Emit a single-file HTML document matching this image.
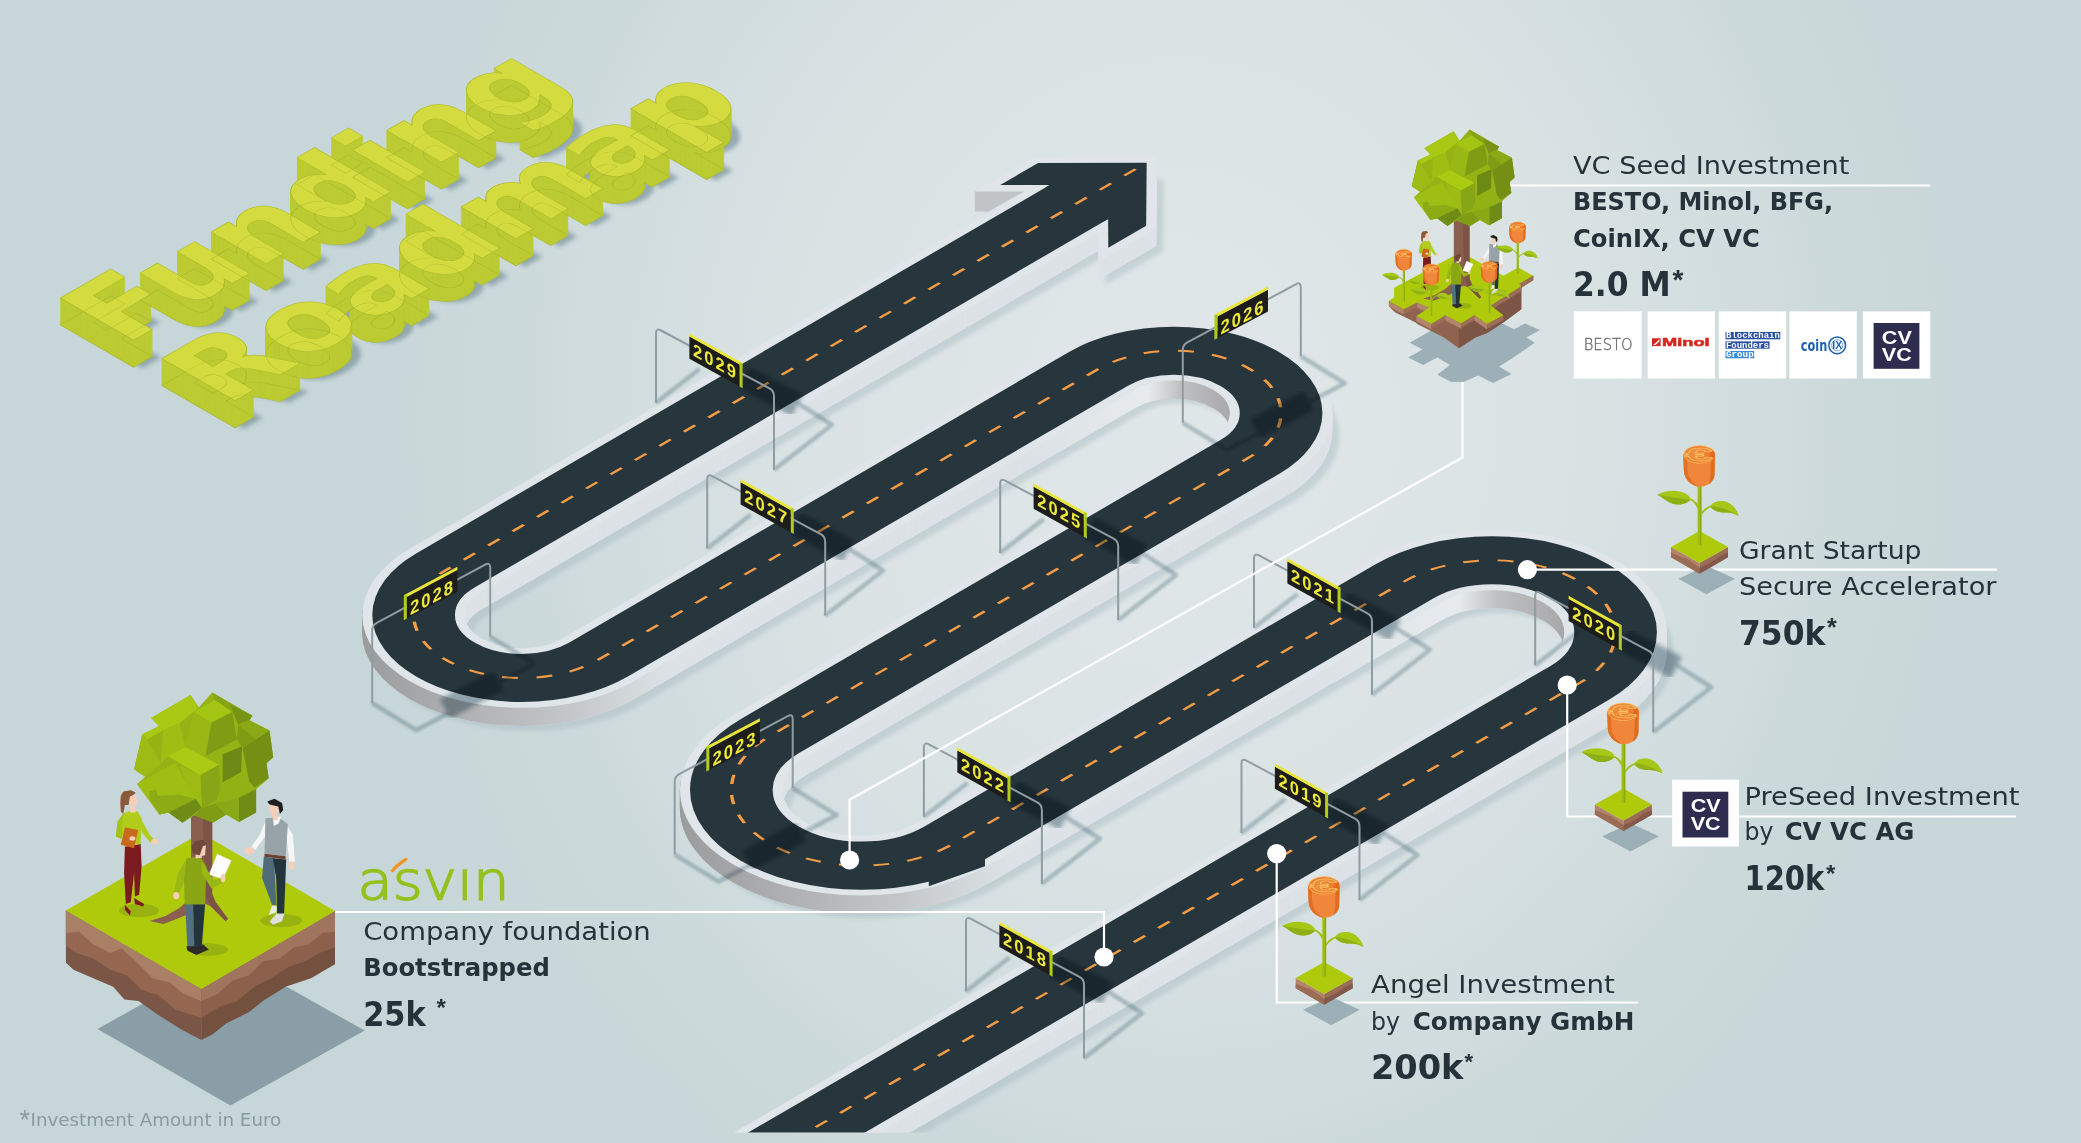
<!DOCTYPE html>
<html lang="en"><head><meta charset="utf-8"><title>Funding Roadmap</title>
<style>html,body{margin:0;padding:0;background:#c7d6d8;}body{width:2081px;height:1143px;overflow:hidden;font-family:"Liberation Sans",sans-serif;}svg{display:block}</style>
</head><body>
<svg width="2081" height="1143" viewBox="0 0 2081 1143">
<defs>
<radialGradient id="bg" gradientUnits="userSpaceOnUse" cx="1180" cy="420" r="850" gradientTransform="translate(1180 420) scale(1 1.15) translate(-1180 -420)">
<stop offset="0" stop-color="#e0e7e8"/><stop offset="0.45" stop-color="#dae3e4"/><stop offset="0.8" stop-color="#ccd9db"/><stop offset="1" stop-color="#c7d6d8"/></radialGradient>
<filter id="blur4" x="-30%" y="-30%" width="160%" height="160%"><feGaussianBlur stdDeviation="4"/></filter>
<filter id="blur2" x="-30%" y="-30%" width="160%" height="160%"><feGaussianBlur stdDeviation="2"/></filter>
<filter id="blur1" x="-30%" y="-30%" width="160%" height="160%"><feGaussianBlur stdDeviation="1.2"/></filter>
<path id="rd" d="M-900,1592.9 L234.0,1592.9 A101.20000000000005,101.20000000000005 0 0 0 234.0,1390.5 L-287.4,1390.5 A106.54999999999995,106.54999999999995 0 0 1 -287.4,1177.4 L268.2,1177.4 A87.60000000000002,87.60000000000002 0 0 0 268.2,1002.2 L-309.8,1002.2 A88.625,88.625 0 0 1 -309.8,824.95 L438.0,824.95"/>
<polygon id="ah" points="501.4,825.0 438.3,762.5 394.5,762.5 423.0,791.2 418.0,791.2 418.0,858.8 423.0,858.8 394.5,887.5 438.3,887.5"/>
<clipPath id="clipRoad"><rect x="0" y="0" width="2081" height="1132.4"/></clipPath>
<g id="curbshape" transform="matrix(0.8645,-0.5027,0.8645,0.5027,0,0)" fill="none"><use href="#rd" stroke-width="84.0"/><use href="#ah" fill="currentColor" stroke-width="16.4" stroke-linejoin="miter"/></g>
<linearGradient id="wg1" gradientUnits="userSpaceOnUse" x1="208.79" y1="208.79" x2="404.86" y2="404.86"><stop offset="0.0000" stop-color="#9a9b9d"/><stop offset="0.3215" stop-color="#b0b2b4"/><stop offset="0.6165" stop-color="#c4c7c9"/><stop offset="0.9115" stop-color="#dce2e5"/><stop offset="1.0000" stop-color="#dce2e5"/></linearGradient>
<linearGradient id="wg3" gradientUnits="userSpaceOnUse" x1="392.13" y1="392.13" x2="607.29" y2="607.29"><stop offset="0.0000" stop-color="#9a9b9d"/><stop offset="0.3280" stop-color="#b0b2b4"/><stop offset="0.5968" stop-color="#c4c7c9"/><stop offset="0.8925" stop-color="#dce2e5"/><stop offset="1.0000" stop-color="#dce2e5"/></linearGradient>
<linearGradient id="wg2" gradientUnits="userSpaceOnUse" x1="601.50" y1="601.50" x2="712.55" y2="712.55"><stop offset="0.0000" stop-color="#dce2e5"/><stop offset="0.5625" stop-color="#e8ebed"/><stop offset="0.7292" stop-color="#bfc0c2"/><stop offset="1.0000" stop-color="#a8a8aa"/></linearGradient>
<linearGradient id="wg4" gradientUnits="userSpaceOnUse" x1="769.23" y1="769.23" x2="905.15" y2="905.15"><stop offset="0.0000" stop-color="#dce2e5"/><stop offset="0.5447" stop-color="#e8ebed"/><stop offset="0.7106" stop-color="#bfc0c2"/><stop offset="1.0000" stop-color="#a8a8aa"/></linearGradient>
<clipPath id="cw1"><rect x="340" y="560" width="360" height="220"/></clipPath>
<clipPath id="cw3"><rect x="655" y="740" width="395" height="220"/></clipPath>
<clipPath id="cw2"><rect x="1110" y="365" width="126" height="70"/></clipPath>
<clipPath id="cw4"><rect x="1405" y="575" width="165" height="90"/></clipPath>
<path id="swg1" d="M-49.80000000000001,1043.0 L-309.8,1043.0 A129.425,129.425 0 0 1 -309.8,784.1500000000001 L-269.8,784.1500000000001"/>
<path id="swg3" d="M-27.399999999999977,1431.3 L-287.4,1431.3 A147.34999999999997,147.34999999999997 0 0 1 -287.4,1136.6000000000001 L-247.39999999999998,1136.6000000000001"/>
<path id="swg2" d="M148.2,1043.0000000000002 L268.2,1043.0000000000002 A46.800000000000026,46.800000000000026 0 0 1 268.2,1136.6000000000001"/>
<path id="swg4" d="M114.0,1431.3 L234.0,1431.3 A60.40000000000005,60.40000000000005 0 0 1 234.0,1552.1000000000001"/>
<g id="flower"><polygon points="-21.2,31.8 7.0,18.8 35.5,31.8 7.0,47.2" fill="#9bafb7" /><polygon points="-28.5,0.0 0.0,16.0 0.0,26.7 -28.5,10.3" fill="#b2846a" /><polygon points="0.0,16.0 28.5,0.0 28.5,10.3 0.0,26.7" fill="#9a6b55" /><polygon points="-28.5,5.5 -20.0,9.0 -12.0,12.0 0.0,20.5 0.0,26.7 -28.5,10.3" fill="#9a6c56" /><polygon points="0.0,20.5 10.0,16.5 20.0,9.5 28.5,5.5 28.5,10.3 0.0,26.7" fill="#83584a" /><polygon points="-28.5,0.0 0.0,-16.0 28.5,0.0 0.0,16.0" fill="#afca0b" /><rect x="-1.9" y="-61" width="3.8" height="59.5" fill="#9ebf12"/><rect x="0.4" y="-61" width="1.5" height="59.5" fill="#8cab12"/><path d="M-1.9,-38.5 C-4,-43 -6,-45.5 -9.5,-47 L-8.5,-48.5 C-5,-47 -2.5,-44 -0.5,-41 Z" fill="#9ebf12"/><path d="M-42.1,-52.3 C-34,-57 -22,-57.5 -14,-53.5 C-10.5,-51.5 -8.8,-49.5 -8.8,-47.5 C-12,-43.5 -20,-41.5 -26,-43 C-32,-45 -37,-49.5 -42.1,-52.3 Z" fill="#a6c715"/><path d="M-42.1,-52.3 C-32,-50.5 -20,-48.5 -8.8,-47.5 C-12,-43.5 -20,-41.5 -26,-43 C-32,-45 -37,-49.5 -42.1,-52.3 Z" fill="#8fb015"/><path d="M1.9,-34.5 C4,-38 7,-40 11.5,-41.5 L12,-40 C8,-38.5 4.5,-36 1.9,-31.5 Z" fill="#9ebf12"/><path d="M10.8,-41 C13,-45 20,-47 26,-45.5 C33,-43.5 38,-37 39.3,-30.7 C35,-33.5 31,-34.5 25,-34.5 C18,-34.5 12.5,-37 10.8,-41 Z" fill="#a6c715"/><path d="M10.8,-41 C20,-40.5 31,-37 39.3,-30.7 C35,-33.5 31,-34.5 25,-34.5 C18,-34.5 12.5,-37 10.8,-41 Z" fill="#8fb015"/><path d="M-16.3,-93 L-15.6,-76 C-15,-68 -9,-61.5 -1,-60.3 C6,-59.5 13,-64 15,-72 L15.4,-94 Z" fill="#ef863a"/><path d="M-16.3,-93 L-15.6,-76 C-15,-68 -9,-61.5 -1,-60.3 C-7,-64 -11.5,-69 -12,-77 L-12.6,-91 Z" fill="#e26f22"/><path d="M9,-62.5 C13,-65 15,-69 15,-72 L15.4,-94 L11.5,-90 L11,-74 C11,-69 10.5,-65 9,-62.5 Z" fill="#e06c20"/><ellipse cx="0" cy="-92.6" rx="15.6" ry="8.8" fill="#ee7f31" stroke="#fcc660" stroke-width="0.7"/><path d="M8.5,-97.5 L14.6,-95.6 L15.4,-92 L15.2,-88.5 L9,-90.2 C11,-92 11,-95.5 8.5,-97.5 Z" fill="#e4691a"/><text transform="translate(-0.5,-92.4) scale(1.5,0.55)" x="0" y="11.6" text-anchor="middle" font-family="Liberation Sans, sans-serif" font-weight="700" font-size="33" fill="#f08a3c" stroke="#fdd272" stroke-width="0.8">€</text></g>
<g id="flower2"><rect x="-1.9" y="-61" width="3.8" height="59.5" fill="#9ebf12"/><rect x="0.4" y="-61" width="1.5" height="59.5" fill="#8cab12"/><path d="M-1.9,-38.5 C-4,-43 -6,-45.5 -9.5,-47 L-8.5,-48.5 C-5,-47 -2.5,-44 -0.5,-41 Z" fill="#9ebf12"/><path d="M-42.1,-52.3 C-34,-57 -22,-57.5 -14,-53.5 C-10.5,-51.5 -8.8,-49.5 -8.8,-47.5 C-12,-43.5 -20,-41.5 -26,-43 C-32,-45 -37,-49.5 -42.1,-52.3 Z" fill="#a6c715"/><path d="M-42.1,-52.3 C-32,-50.5 -20,-48.5 -8.8,-47.5 C-12,-43.5 -20,-41.5 -26,-43 C-32,-45 -37,-49.5 -42.1,-52.3 Z" fill="#8fb015"/><path d="M1.9,-34.5 C4,-38 7,-40 11.5,-41.5 L12,-40 C8,-38.5 4.5,-36 1.9,-31.5 Z" fill="#9ebf12"/><path d="M10.8,-41 C13,-45 20,-47 26,-45.5 C33,-43.5 38,-37 39.3,-30.7 C35,-33.5 31,-34.5 25,-34.5 C18,-34.5 12.5,-37 10.8,-41 Z" fill="#a6c715"/><path d="M10.8,-41 C20,-40.5 31,-37 39.3,-30.7 C35,-33.5 31,-34.5 25,-34.5 C18,-34.5 12.5,-37 10.8,-41 Z" fill="#8fb015"/><path d="M-16.3,-93 L-15.6,-76 C-15,-68 -9,-61.5 -1,-60.3 C6,-59.5 13,-64 15,-72 L15.4,-94 Z" fill="#ef863a"/><path d="M-16.3,-93 L-15.6,-76 C-15,-68 -9,-61.5 -1,-60.3 C-7,-64 -11.5,-69 -12,-77 L-12.6,-91 Z" fill="#e26f22"/><path d="M9,-62.5 C13,-65 15,-69 15,-72 L15.4,-94 L11.5,-90 L11,-74 C11,-69 10.5,-65 9,-62.5 Z" fill="#e06c20"/><ellipse cx="0" cy="-92.6" rx="15.6" ry="8.8" fill="#ee7f31" stroke="#fcc660" stroke-width="0.7"/><path d="M8.5,-97.5 L14.6,-95.6 L15.4,-92 L15.2,-88.5 L9,-90.2 C11,-92 11,-95.5 8.5,-97.5 Z" fill="#e4691a"/><text transform="translate(-0.5,-92.4) scale(1.5,0.55)" x="0" y="11.6" text-anchor="middle" font-family="Liberation Sans, sans-serif" font-weight="700" font-size="33" fill="#f08a3c" stroke="#fdd272" stroke-width="0.8">€</text></g>
<g id="tree"><polygon points="-10.5,-90.0 10.7,-90.0 10.7,-4.0 14.0,4.0 26.5,21.0 24.0,23.0 9.0,8.0 4.0,6.0 -2.0,7.0 -8.0,14.0 -20.0,19.0 -38.0,26.0 -52.0,23.0 -36.0,18.0 -22.0,10.0 -13.0,2.0 -10.5,-6.0" fill="#8a5f4f" /><polygon points="1.0,-90.0 10.7,-90.0 10.7,-4.0 14.0,4.0 26.5,21.0 24.0,23.0 9.0,8.0 4.0,-2.0" fill="#7c5446" /><polygon points="10.7,-205.4 50.9,-182.3 47.9,-177.8 68.0,-167.4 71.7,-140.7 65.0,-134.7 67.2,-119.8 54.6,-108.7 54.6,-85.6 37.5,-76.0 24.8,-83.4 11.5,-75.2 -7.1,-82.7 -19.0,-75.2 -33.2,-85.6 -42.1,-83.4 -64.4,-113.9 -56.2,-121.3 -67.4,-128.8 -59.2,-163.7 -42.1,-171.9 -50.3,-180.1 -10.9,-203.1 -2.7,-190.5" fill="#95b315" /><polygon points="-50.3,-180.1 -10.9,-203.1 -3.4,-189.7 -22.0,-174.9 -38.4,-167.4" fill="#a8c813" /><polygon points="-59.2,-163.7 -42.1,-171.9 -38.4,-167.4 -54.7,-158.5" fill="#a8c813" /><polygon points="-59.2,-163.7 -54.7,-158.5 -40.6,-134.7 -56.2,-121.3 -67.4,-128.8" fill="#9dbb14" /><polygon points="-38.4,-167.4 -22.0,-174.9 -16.1,-151.1 -33.9,-142.1 -40.6,-134.7" fill="#9fbe14" /><polygon points="-7.9,-186.0 13.7,-197.9 30.8,-186.0 10.0,-175.6" fill="#a5c514" /><polygon points="-7.9,-186.0 10.0,-175.6 4.0,-142.1 -16.1,-151.1" fill="#9ab815" /><polygon points="10.0,-175.6 30.8,-186.0 35.3,-158.5 4.0,-142.1" fill="#7f9c14" /><polygon points="10.7,-205.4 50.9,-182.3 36.7,-173.4 30.8,-186.0 13.7,-197.9" fill="#86a416" /><polygon points="28.6,-193.5 50.9,-182.3 47.9,-177.8 36.7,-173.4" fill="#789414" /><polygon points="36.7,-173.4 47.9,-177.8 68.0,-167.4 54.6,-158.5" fill="#8aa916" /><polygon points="35.3,-158.5 36.7,-173.4 54.6,-158.5 58.3,-134.7 40.5,-151.1" fill="#7f9c14" /><polygon points="54.6,-158.5 68.0,-167.4 71.7,-140.7 65.0,-134.7 67.2,-119.8 49.4,-107.9 41.2,-149.6" fill="#758f15" /><polygon points="21.1,-143.6 40.5,-151.8 39.7,-125.8 21.1,-115.4" fill="#6c8815" /><polygon points="-33.9,-142.1 -16.1,-151.1 17.4,-133.2 -1.2,-122.8" fill="#aaca13" /><polygon points="-1.2,-122.8 17.4,-133.2 19.6,-100.5 0.3,-90.1" fill="#87a516" /><polygon points="-22.0,-132.5 -1.2,-122.8 0.3,-90.1 -8.6,-99.0" fill="#9dbb14" /><polygon points="-64.4,-113.9 -44.3,-125.8 -26.5,-134.7 -5.6,-99.0 -33.2,-85.6 -42.1,-83.4" fill="#9fbe14" /><polygon points="-52.5,-106.5 -45.8,-108.7 -43.6,-102.0 -22.0,-103.5 -5.6,-99.0 -33.2,-85.6 -42.1,-83.4 -51.8,-99.0" fill="#8dab15" /><polygon points="-33.2,-85.6 -5.6,-99.0 0.3,-90.1 -19.0,-75.2" fill="#6f8c17" /><polygon points="-7.1,-82.7 0.3,-90.1 13.7,-94.6 24.8,-83.4 11.5,-75.2" fill="#7f9c14" /><polygon points="13.7,-94.6 21.1,-115.4 39.7,-125.8 54.6,-108.7 37.5,-100.5" fill="#92b115" /><polygon points="37.5,-100.5 54.6,-108.7 54.6,-85.6 37.5,-76.0" fill="#6f8c17" /><polygon points="13.7,-94.6 37.5,-100.5 37.5,-76.0 24.8,-83.4" fill="#8aa916" /></g>
<g id="people"><ellipse cx="139.1" cy="910.5" rx="20.0" ry="6.7" fill="#98b30f" /><polygon points="124.9,904.7 130.8,911.4 129.9,915.5 124.9,909.7" fill="#7b1a1f" /><polygon points="134.1,898.1 144.1,903.9 143.2,906.4 134.9,903.9" fill="#7b1a1f" /><polygon points="124.9,846.5 140.7,844.0 141.6,866.5 139.1,894.7 134.9,896.4 134.1,873.1 130.8,902.2 125.8,903.9 124.1,873.1" fill="#7b1a1f" /><polygon points="123.3,813.3 117.5,821.6 115.8,836.5 121.6,839.0 124.9,826.6" fill="#a4c116" /><polygon points="123.3,813.3 130.8,810.8 137.4,811.3 141.6,818.2 140.7,844.0 124.9,846.5 121.6,829.9" fill="#b2cc1c" /><polygon points="139.1,815.7 149.9,834.9 154.0,839.5 150.7,842.9 142.4,833.2 139.1,824.9" fill="#b2cc1c" /><ellipse cx="154.9" cy="841.5" rx="3.7" ry="2.7" fill="#f6cfbb" /><polygon points="124.9,827.4 138.2,829.9 134.1,848.2 120.8,844.8" fill="#c8691c" /><ellipse cx="132.4" cy="838.5" rx="3.0" ry="2.2" fill="#f6cfbb" /><polygon points="130.4,804.9 135.3,804.9 135.7,812.4 129.9,812.4" fill="#f6cfbb" /><ellipse cx="132.8" cy="800.3" rx="4.3" ry="6.3" fill="#f6cfbb" /><polygon points="120.8,795.8 123.3,791.6 130.8,790.3 135.7,792.5 133.3,795.0 129.9,796.6 128.6,804.9 124.9,804.9 123.3,814.1 120.8,811.6 120.3,803.3" fill="#8a5a3c" /><ellipse cx="281.2" cy="920.5" rx="20.8" ry="6.7" fill="#98b30f" /><polygon points="272.1,905.5 277.1,906.4 276.3,912.2 268.8,915.0" fill="#e9e9e9" /><polygon points="277.1,913.0 284.6,913.0 282.1,921.3 272.9,924.7 269.6,921.3" fill="#dedede" /><polygon points="263.8,856.5 274.1,858.2 276.3,905.0 272.1,905.0 262.1,878.1" fill="#4f6b78" /><polygon points="272.9,858.2 286.2,859.5 284.1,913.4 277.1,913.4 276.3,879.8" fill="#23343c" /><polygon points="265.4,821.6 266.3,834.9 255.5,849.8 251.3,847.0 259.6,834.9" fill="#f4f6f7" /><polygon points="286.2,824.1 292.9,834.9 294.9,861.5 289.6,862.5 287.1,843.2" fill="#f4f6f7" /><polygon points="265.4,818.2 278.7,817.4 287.9,824.1 285.7,856.2 264.6,853.5" fill="#98a3a7" /><polygon points="272.9,817.4 281.2,816.6 278.7,823.6 273.8,826.1" fill="#f4f6f7" /><polygon points="264.6,853.7 285.7,856.2 285.6,859.5 264.4,856.7" fill="#6b4030" /><ellipse cx="249.3" cy="850.7" rx="5.0" ry="3.7" fill="#f6cfbb" /><ellipse cx="291.7" cy="865.6" rx="3.0" ry="4.3" fill="#f6cfbb" /><polygon points="272.1,813.3 277.1,813.3 277.6,819.9 272.9,819.9" fill="#f6cfbb" /><ellipse cx="273.8" cy="808.6" rx="4.7" ry="6.7" fill="#f6cfbb" /><polygon points="267.1,801.6 274.6,798.8 282.1,802.9 283.2,809.9 279.9,814.1 278.3,806.6 269.6,804.4" fill="#1f1f1f" /></g>
<g id="cman"><ellipse cx="208.1" cy="949.6" rx="20.0" ry="6.3" fill="#98b30f" /><polygon points="186.5,946.3 203.1,944.6 208.9,949.6 196.4,954.9 187.3,950.4" fill="#2e2a28" /><polygon points="185.1,903.9 193.4,903.9 194.3,946.3 187.3,946.3" fill="#53707e" /><polygon points="193.1,903.9 205.1,903.9 201.8,946.3 194.3,947.9" fill="#23343c" /><polygon points="217.2,854.0 231.4,860.6 223.0,878.9 208.9,874.8" fill="#fdfdfd" stroke="#d9dcdc" stroke-width="0.3"/><polygon points="186.5,858.2 178.2,873.1 174.0,892.2 178.5,894.7 185.1,879.8" fill="#9ab815" /><polygon points="186.5,858.2 199.8,856.5 206.4,866.5 205.1,904.4 184.8,904.4 184.0,879.8" fill="#8aa614" /><polygon points="201.4,859.8 213.1,879.8 222.2,877.8 223.9,882.3 211.4,888.4 201.8,873.1" fill="#9ab815" /><ellipse cx="176.2" cy="895.6" rx="3.0" ry="3.7" fill="#f6cfbb" /><ellipse cx="223.0" cy="878.1" rx="2.3" ry="4.3" fill="#f6cfbb" /><polygon points="199.4,846.5 205.8,845.2 205.1,855.2 199.8,856.2" fill="#f6cfbb" /><polygon points="195.6,853.2 201.8,853.2 201.8,857.8 195.6,858.5" fill="#f6cfbb" /><polygon points="191.5,846.5 194.8,841.5 203.1,839.5 206.8,844.0 202.8,846.5 199.8,855.2 193.1,854.0" fill="#6f4a3a" /></g>
<g id="island"><polygon points="65.9,910.5 201.3,989.0 201.3,1039.9 180.9,1029.2 158.3,1015.1 138.5,1000.9 124.4,999.5 113.1,986.8 93.3,978.3 73.5,969.8 65.9,962.8" fill="#7b5546" /><polygon points="201.3,989.0 335.0,911.0 335.0,964.2 311.0,978.3 285.5,986.8 262.9,1000.9 248.8,1012.2 226.1,1023.5 212.0,1034.8 201.3,1039.9" fill="#74503f" /><polygon points="65.9,910.5 201.3,989.0 201.3,1017.9 175.3,1009.4 158.3,995.3 141.3,989.6 127.2,975.5 110.2,969.8 93.3,958.5 76.3,952.9 65.9,945.8" fill="#956750" /><polygon points="201.3,989.0 335.0,911.0 335.0,947.2 319.4,952.9 305.3,961.3 288.3,967.0 271.4,978.3 254.4,986.8 237.5,1000.9 220.5,1006.6 201.3,1017.9" fill="#8d604b" /><polygon points="65.9,910.5 201.3,989.0 201.3,1000.9 183.7,993.9 169.6,982.5 152.7,978.3 135.7,961.3 121.6,948.6 110.2,952.9 93.3,944.4 79.2,931.7 65.9,933.1" fill="#a97f66" /><polygon points="201.3,989.0 335.0,911.0 335.0,931.7 322.3,933.1 308.1,944.4 294.0,947.2 279.9,958.5 262.9,961.3 248.8,975.5 231.8,981.1 217.7,993.9 201.3,1000.9" fill="#a0755d" /><polygon points="65.9,910.5 201.0,833.0 335.0,911.0 201.3,989.0" fill="#afca0b" /></g>
<text id="tF" transform="matrix(0.8660254,-0.5,0.8660254,0.5,131.9,341.1)" x="-8.6" y="0" font-family="DejaVu Sans, sans-serif" font-weight="700" font-size="116" stroke-linejoin="round" textLength="520" lengthAdjust="spacingAndGlyphs">Funding</text>
<text id="tR" transform="matrix(0.8660254,-0.5,0.8660254,0.5,233.5,401.7)" x="-8.6" y="0" font-family="DejaVu Sans, sans-serif" font-weight="700" font-size="116" stroke-linejoin="round" textLength="603" lengthAdjust="spacingAndGlyphs">Roadmap</text>
</defs>
<rect width="2081" height="1143" fill="url(#bg)"/>
<g clip-path="url(#clipRoad)">
<g transform="translate(7,23)" opacity="0.38" filter="url(#blur2)" stroke="#9fb3ba" color="#9fb3ba"><use href="#curbshape"/></g>
<g stroke="#dce2e5" color="#dce2e5">
<use href="#curbshape" y="18"/>
<use href="#curbshape" y="17"/>
<use href="#curbshape" y="16"/>
<use href="#curbshape" y="15"/>
<use href="#curbshape" y="14"/>
<use href="#curbshape" y="13"/>
<use href="#curbshape" y="12"/>
<use href="#curbshape" y="11"/>
<use href="#curbshape" y="10"/>
<use href="#curbshape" y="9"/>
<use href="#curbshape" y="8"/>
<use href="#curbshape" y="7"/>
<use href="#curbshape" y="6"/>
<use href="#curbshape" y="5"/>
<use href="#curbshape" y="4"/>
<use href="#curbshape" y="3"/>
<use href="#curbshape" y="2"/>
<use href="#curbshape" y="1"/>
</g>
<g transform="translate(0,18)"><g transform="matrix(0.8645,-0.5027,0.8645,0.5027,0,0)" fill="none" stroke="url(#wg1)" stroke-width="2.6"><use href="#swg1"/></g></g>
<g transform="translate(0,17)"><g transform="matrix(0.8645,-0.5027,0.8645,0.5027,0,0)" fill="none" stroke="url(#wg1)" stroke-width="2.6"><use href="#swg1"/></g></g>
<g transform="translate(0,16)"><g transform="matrix(0.8645,-0.5027,0.8645,0.5027,0,0)" fill="none" stroke="url(#wg1)" stroke-width="2.6"><use href="#swg1"/></g></g>
<g transform="translate(0,15)"><g transform="matrix(0.8645,-0.5027,0.8645,0.5027,0,0)" fill="none" stroke="url(#wg1)" stroke-width="2.6"><use href="#swg1"/></g></g>
<g transform="translate(0,14)"><g transform="matrix(0.8645,-0.5027,0.8645,0.5027,0,0)" fill="none" stroke="url(#wg1)" stroke-width="2.6"><use href="#swg1"/></g></g>
<g transform="translate(0,13)"><g transform="matrix(0.8645,-0.5027,0.8645,0.5027,0,0)" fill="none" stroke="url(#wg1)" stroke-width="2.6"><use href="#swg1"/></g></g>
<g transform="translate(0,12)"><g transform="matrix(0.8645,-0.5027,0.8645,0.5027,0,0)" fill="none" stroke="url(#wg1)" stroke-width="2.6"><use href="#swg1"/></g></g>
<g transform="translate(0,11)"><g transform="matrix(0.8645,-0.5027,0.8645,0.5027,0,0)" fill="none" stroke="url(#wg1)" stroke-width="2.6"><use href="#swg1"/></g></g>
<g transform="translate(0,10)"><g transform="matrix(0.8645,-0.5027,0.8645,0.5027,0,0)" fill="none" stroke="url(#wg1)" stroke-width="2.6"><use href="#swg1"/></g></g>
<g transform="translate(0,9)"><g transform="matrix(0.8645,-0.5027,0.8645,0.5027,0,0)" fill="none" stroke="url(#wg1)" stroke-width="2.6"><use href="#swg1"/></g></g>
<g transform="translate(0,8)"><g transform="matrix(0.8645,-0.5027,0.8645,0.5027,0,0)" fill="none" stroke="url(#wg1)" stroke-width="2.6"><use href="#swg1"/></g></g>
<g transform="translate(0,7)"><g transform="matrix(0.8645,-0.5027,0.8645,0.5027,0,0)" fill="none" stroke="url(#wg1)" stroke-width="2.6"><use href="#swg1"/></g></g>
<g transform="translate(0,6)"><g transform="matrix(0.8645,-0.5027,0.8645,0.5027,0,0)" fill="none" stroke="url(#wg1)" stroke-width="2.6"><use href="#swg1"/></g></g>
<g transform="translate(0,5)"><g transform="matrix(0.8645,-0.5027,0.8645,0.5027,0,0)" fill="none" stroke="url(#wg1)" stroke-width="2.6"><use href="#swg1"/></g></g>
<g transform="translate(0,4)"><g transform="matrix(0.8645,-0.5027,0.8645,0.5027,0,0)" fill="none" stroke="url(#wg1)" stroke-width="2.6"><use href="#swg1"/></g></g>
<g transform="translate(0,3)"><g transform="matrix(0.8645,-0.5027,0.8645,0.5027,0,0)" fill="none" stroke="url(#wg1)" stroke-width="2.6"><use href="#swg1"/></g></g>
<g transform="translate(0,2)"><g transform="matrix(0.8645,-0.5027,0.8645,0.5027,0,0)" fill="none" stroke="url(#wg1)" stroke-width="2.6"><use href="#swg1"/></g></g>
<g transform="translate(0,1)"><g transform="matrix(0.8645,-0.5027,0.8645,0.5027,0,0)" fill="none" stroke="url(#wg1)" stroke-width="2.6"><use href="#swg1"/></g></g>
<g transform="translate(0,18)"><g transform="matrix(0.8645,-0.5027,0.8645,0.5027,0,0)" fill="none" stroke="url(#wg3)" stroke-width="2.6"><use href="#swg3"/></g></g>
<g transform="translate(0,17)"><g transform="matrix(0.8645,-0.5027,0.8645,0.5027,0,0)" fill="none" stroke="url(#wg3)" stroke-width="2.6"><use href="#swg3"/></g></g>
<g transform="translate(0,16)"><g transform="matrix(0.8645,-0.5027,0.8645,0.5027,0,0)" fill="none" stroke="url(#wg3)" stroke-width="2.6"><use href="#swg3"/></g></g>
<g transform="translate(0,15)"><g transform="matrix(0.8645,-0.5027,0.8645,0.5027,0,0)" fill="none" stroke="url(#wg3)" stroke-width="2.6"><use href="#swg3"/></g></g>
<g transform="translate(0,14)"><g transform="matrix(0.8645,-0.5027,0.8645,0.5027,0,0)" fill="none" stroke="url(#wg3)" stroke-width="2.6"><use href="#swg3"/></g></g>
<g transform="translate(0,13)"><g transform="matrix(0.8645,-0.5027,0.8645,0.5027,0,0)" fill="none" stroke="url(#wg3)" stroke-width="2.6"><use href="#swg3"/></g></g>
<g transform="translate(0,12)"><g transform="matrix(0.8645,-0.5027,0.8645,0.5027,0,0)" fill="none" stroke="url(#wg3)" stroke-width="2.6"><use href="#swg3"/></g></g>
<g transform="translate(0,11)"><g transform="matrix(0.8645,-0.5027,0.8645,0.5027,0,0)" fill="none" stroke="url(#wg3)" stroke-width="2.6"><use href="#swg3"/></g></g>
<g transform="translate(0,10)"><g transform="matrix(0.8645,-0.5027,0.8645,0.5027,0,0)" fill="none" stroke="url(#wg3)" stroke-width="2.6"><use href="#swg3"/></g></g>
<g transform="translate(0,9)"><g transform="matrix(0.8645,-0.5027,0.8645,0.5027,0,0)" fill="none" stroke="url(#wg3)" stroke-width="2.6"><use href="#swg3"/></g></g>
<g transform="translate(0,8)"><g transform="matrix(0.8645,-0.5027,0.8645,0.5027,0,0)" fill="none" stroke="url(#wg3)" stroke-width="2.6"><use href="#swg3"/></g></g>
<g transform="translate(0,7)"><g transform="matrix(0.8645,-0.5027,0.8645,0.5027,0,0)" fill="none" stroke="url(#wg3)" stroke-width="2.6"><use href="#swg3"/></g></g>
<g transform="translate(0,6)"><g transform="matrix(0.8645,-0.5027,0.8645,0.5027,0,0)" fill="none" stroke="url(#wg3)" stroke-width="2.6"><use href="#swg3"/></g></g>
<g transform="translate(0,5)"><g transform="matrix(0.8645,-0.5027,0.8645,0.5027,0,0)" fill="none" stroke="url(#wg3)" stroke-width="2.6"><use href="#swg3"/></g></g>
<g transform="translate(0,4)"><g transform="matrix(0.8645,-0.5027,0.8645,0.5027,0,0)" fill="none" stroke="url(#wg3)" stroke-width="2.6"><use href="#swg3"/></g></g>
<g transform="translate(0,3)"><g transform="matrix(0.8645,-0.5027,0.8645,0.5027,0,0)" fill="none" stroke="url(#wg3)" stroke-width="2.6"><use href="#swg3"/></g></g>
<g transform="translate(0,2)"><g transform="matrix(0.8645,-0.5027,0.8645,0.5027,0,0)" fill="none" stroke="url(#wg3)" stroke-width="2.6"><use href="#swg3"/></g></g>
<g transform="translate(0,1)"><g transform="matrix(0.8645,-0.5027,0.8645,0.5027,0,0)" fill="none" stroke="url(#wg3)" stroke-width="2.6"><use href="#swg3"/></g></g>
<g transform="translate(0,18)"><g transform="matrix(0.8645,-0.5027,0.8645,0.5027,0,0)" fill="none" stroke="url(#wg2)" stroke-width="2.6"><use href="#swg2"/></g></g>
<g transform="translate(0,17)"><g transform="matrix(0.8645,-0.5027,0.8645,0.5027,0,0)" fill="none" stroke="url(#wg2)" stroke-width="2.6"><use href="#swg2"/></g></g>
<g transform="translate(0,16)"><g transform="matrix(0.8645,-0.5027,0.8645,0.5027,0,0)" fill="none" stroke="url(#wg2)" stroke-width="2.6"><use href="#swg2"/></g></g>
<g transform="translate(0,15)"><g transform="matrix(0.8645,-0.5027,0.8645,0.5027,0,0)" fill="none" stroke="url(#wg2)" stroke-width="2.6"><use href="#swg2"/></g></g>
<g transform="translate(0,14)"><g transform="matrix(0.8645,-0.5027,0.8645,0.5027,0,0)" fill="none" stroke="url(#wg2)" stroke-width="2.6"><use href="#swg2"/></g></g>
<g transform="translate(0,13)"><g transform="matrix(0.8645,-0.5027,0.8645,0.5027,0,0)" fill="none" stroke="url(#wg2)" stroke-width="2.6"><use href="#swg2"/></g></g>
<g transform="translate(0,12)"><g transform="matrix(0.8645,-0.5027,0.8645,0.5027,0,0)" fill="none" stroke="url(#wg2)" stroke-width="2.6"><use href="#swg2"/></g></g>
<g transform="translate(0,11)"><g transform="matrix(0.8645,-0.5027,0.8645,0.5027,0,0)" fill="none" stroke="url(#wg2)" stroke-width="2.6"><use href="#swg2"/></g></g>
<g transform="translate(0,10)"><g transform="matrix(0.8645,-0.5027,0.8645,0.5027,0,0)" fill="none" stroke="url(#wg2)" stroke-width="2.6"><use href="#swg2"/></g></g>
<g transform="translate(0,9)"><g transform="matrix(0.8645,-0.5027,0.8645,0.5027,0,0)" fill="none" stroke="url(#wg2)" stroke-width="2.6"><use href="#swg2"/></g></g>
<g transform="translate(0,8)"><g transform="matrix(0.8645,-0.5027,0.8645,0.5027,0,0)" fill="none" stroke="url(#wg2)" stroke-width="2.6"><use href="#swg2"/></g></g>
<g transform="translate(0,7)"><g transform="matrix(0.8645,-0.5027,0.8645,0.5027,0,0)" fill="none" stroke="url(#wg2)" stroke-width="2.6"><use href="#swg2"/></g></g>
<g transform="translate(0,6)"><g transform="matrix(0.8645,-0.5027,0.8645,0.5027,0,0)" fill="none" stroke="url(#wg2)" stroke-width="2.6"><use href="#swg2"/></g></g>
<g transform="translate(0,5)"><g transform="matrix(0.8645,-0.5027,0.8645,0.5027,0,0)" fill="none" stroke="url(#wg2)" stroke-width="2.6"><use href="#swg2"/></g></g>
<g transform="translate(0,4)"><g transform="matrix(0.8645,-0.5027,0.8645,0.5027,0,0)" fill="none" stroke="url(#wg2)" stroke-width="2.6"><use href="#swg2"/></g></g>
<g transform="translate(0,3)"><g transform="matrix(0.8645,-0.5027,0.8645,0.5027,0,0)" fill="none" stroke="url(#wg2)" stroke-width="2.6"><use href="#swg2"/></g></g>
<g transform="translate(0,2)"><g transform="matrix(0.8645,-0.5027,0.8645,0.5027,0,0)" fill="none" stroke="url(#wg2)" stroke-width="2.6"><use href="#swg2"/></g></g>
<g transform="translate(0,1)"><g transform="matrix(0.8645,-0.5027,0.8645,0.5027,0,0)" fill="none" stroke="url(#wg2)" stroke-width="2.6"><use href="#swg2"/></g></g>
<g transform="translate(0,18)"><g transform="matrix(0.8645,-0.5027,0.8645,0.5027,0,0)" fill="none" stroke="url(#wg4)" stroke-width="2.6"><use href="#swg4"/></g></g>
<g transform="translate(0,17)"><g transform="matrix(0.8645,-0.5027,0.8645,0.5027,0,0)" fill="none" stroke="url(#wg4)" stroke-width="2.6"><use href="#swg4"/></g></g>
<g transform="translate(0,16)"><g transform="matrix(0.8645,-0.5027,0.8645,0.5027,0,0)" fill="none" stroke="url(#wg4)" stroke-width="2.6"><use href="#swg4"/></g></g>
<g transform="translate(0,15)"><g transform="matrix(0.8645,-0.5027,0.8645,0.5027,0,0)" fill="none" stroke="url(#wg4)" stroke-width="2.6"><use href="#swg4"/></g></g>
<g transform="translate(0,14)"><g transform="matrix(0.8645,-0.5027,0.8645,0.5027,0,0)" fill="none" stroke="url(#wg4)" stroke-width="2.6"><use href="#swg4"/></g></g>
<g transform="translate(0,13)"><g transform="matrix(0.8645,-0.5027,0.8645,0.5027,0,0)" fill="none" stroke="url(#wg4)" stroke-width="2.6"><use href="#swg4"/></g></g>
<g transform="translate(0,12)"><g transform="matrix(0.8645,-0.5027,0.8645,0.5027,0,0)" fill="none" stroke="url(#wg4)" stroke-width="2.6"><use href="#swg4"/></g></g>
<g transform="translate(0,11)"><g transform="matrix(0.8645,-0.5027,0.8645,0.5027,0,0)" fill="none" stroke="url(#wg4)" stroke-width="2.6"><use href="#swg4"/></g></g>
<g transform="translate(0,10)"><g transform="matrix(0.8645,-0.5027,0.8645,0.5027,0,0)" fill="none" stroke="url(#wg4)" stroke-width="2.6"><use href="#swg4"/></g></g>
<g transform="translate(0,9)"><g transform="matrix(0.8645,-0.5027,0.8645,0.5027,0,0)" fill="none" stroke="url(#wg4)" stroke-width="2.6"><use href="#swg4"/></g></g>
<g transform="translate(0,8)"><g transform="matrix(0.8645,-0.5027,0.8645,0.5027,0,0)" fill="none" stroke="url(#wg4)" stroke-width="2.6"><use href="#swg4"/></g></g>
<g transform="translate(0,7)"><g transform="matrix(0.8645,-0.5027,0.8645,0.5027,0,0)" fill="none" stroke="url(#wg4)" stroke-width="2.6"><use href="#swg4"/></g></g>
<g transform="translate(0,6)"><g transform="matrix(0.8645,-0.5027,0.8645,0.5027,0,0)" fill="none" stroke="url(#wg4)" stroke-width="2.6"><use href="#swg4"/></g></g>
<g transform="translate(0,5)"><g transform="matrix(0.8645,-0.5027,0.8645,0.5027,0,0)" fill="none" stroke="url(#wg4)" stroke-width="2.6"><use href="#swg4"/></g></g>
<g transform="translate(0,4)"><g transform="matrix(0.8645,-0.5027,0.8645,0.5027,0,0)" fill="none" stroke="url(#wg4)" stroke-width="2.6"><use href="#swg4"/></g></g>
<g transform="translate(0,3)"><g transform="matrix(0.8645,-0.5027,0.8645,0.5027,0,0)" fill="none" stroke="url(#wg4)" stroke-width="2.6"><use href="#swg4"/></g></g>
<g transform="translate(0,2)"><g transform="matrix(0.8645,-0.5027,0.8645,0.5027,0,0)" fill="none" stroke="url(#wg4)" stroke-width="2.6"><use href="#swg4"/></g></g>
<g transform="translate(0,1)"><g transform="matrix(0.8645,-0.5027,0.8645,0.5027,0,0)" fill="none" stroke="url(#wg4)" stroke-width="2.6"><use href="#swg4"/></g></g>
<polygon points="974.8,191.4 1024.4,191.4 988.2,211.6 974.8,211.6" fill="#c0c4c7" />
<g stroke="#dfe5e8" color="#dfe5e8"><use href="#curbshape"/></g>
<g transform="matrix(0.8645,-0.5027,0.8645,0.5027,0,0)" fill="none" stroke="#27353d"><use href="#rd" stroke-width="67.6"/><use href="#ah" fill="#27353d" stroke="none"/></g>
<polygon points="928.8,878.5 985.0,857.0 985.0,866.3 928.8,886.3" fill="#27353d" />
<g transform="matrix(0.8645,-0.5027,0.8645,0.5027,0,0)" fill="none" stroke="#f59d45" stroke-width="2.8" stroke-dasharray="13 15.3" stroke-dashoffset="4"><path d="M-900,1592.9 L234.0,1592.9 A101.20000000000005,101.20000000000005 0 0 0 234.0,1390.5 L-287.4,1390.5 A106.54999999999995,106.54999999999995 0 0 1 -287.4,1177.4 L268.2,1177.4 A87.60000000000002,87.60000000000002 0 0 0 268.2,1002.2 L-309.8,1002.2 A88.625,88.625 0 0 1 -309.8,824.95 L494.4,824.95"/></g>
</g>
<g id="gantry-shadows" style="mix-blend-mode:multiply"><g fill="none" stroke="#c3d0d5" stroke-width="4.5" filter="url(#blur1)" stroke-linejoin="round"><path d="M656,402.8 l43.5,-33.75" /><path d="M774.0,469.84000000000003 L832.0,424.84000000000003 L758.84,378.0652" /></g><path d="M744.1,377.1 l53.2,28.196" stroke="#a5b5bc" stroke-width="24" filter="url(#blur2)" fill="none"/>
<g fill="none" stroke="#c3d0d5" stroke-width="4.5" filter="url(#blur1)" stroke-linejoin="round"><path d="M707.2,548.5 l43.5,-33.75" /><path d="M825.2,615.54 L883.2,570.54 L810.0400000000001,523.7651999999999" /></g><path d="M795.3,522.8 l53.2,28.196" stroke="#a5b5bc" stroke-width="24" filter="url(#blur2)" fill="none"/>
<g fill="none" stroke="#c3d0d5" stroke-width="4.5" filter="url(#blur1)" stroke-linejoin="round"><path d="M1000.2,552.9 l43.5,-33.75" /><path d="M1118.2,619.9399999999999 L1176.2,574.9399999999999 L1103.04,528.1651999999999" /></g><path d="M1088.3,527.2 l53.2,28.196" stroke="#a5b5bc" stroke-width="24" filter="url(#blur2)" fill="none"/>
<g fill="none" stroke="#c3d0d5" stroke-width="4.5" filter="url(#blur1)" stroke-linejoin="round"><path d="M923.9,816.7 l43.5,-33.75" /><path d="M1041.9,883.74 L1099.9,838.74 L1026.74,791.9652" /></g><path d="M1012.0,791.0 l53.2,28.196" stroke="#a5b5bc" stroke-width="24" filter="url(#blur2)" fill="none"/>
<g fill="none" stroke="#c3d0d5" stroke-width="4.5" filter="url(#blur1)" stroke-linejoin="round"><path d="M966,991.2 l43.5,-33.75" /><path d="M1084.0,1058.24 L1142.0,1013.24 L1068.84,966.4652" /></g><path d="M1054.1,965.5 l53.2,28.196" stroke="#a5b5bc" stroke-width="24" filter="url(#blur2)" fill="none"/>
<g fill="none" stroke="#c3d0d5" stroke-width="4.5" filter="url(#blur1)" stroke-linejoin="round"><path d="M1254,627.7 l43.5,-33.75" /><path d="M1372.0,694.74 L1430.0,649.74 L1356.84,602.9652" /></g><path d="M1342.1,602.0 l53.2,28.196" stroke="#a5b5bc" stroke-width="24" filter="url(#blur2)" fill="none"/>
<g fill="none" stroke="#c3d0d5" stroke-width="4.5" filter="url(#blur1)" stroke-linejoin="round"><path d="M1535.2,665.2 l43.5,-33.75" /><path d="M1653.2,732.24 L1711.2,687.24 L1638.04,640.4652" /></g><path d="M1623.3,639.5 l53.2,28.196" stroke="#a5b5bc" stroke-width="24" filter="url(#blur2)" fill="none"/>
<g fill="none" stroke="#c3d0d5" stroke-width="4.5" filter="url(#blur1)" stroke-linejoin="round"><path d="M1241.5,832.9 l43.5,-33.75" /><path d="M1359.5,899.9399999999999 L1417.5,854.9399999999999 L1344.34,808.1651999999999" /></g><path d="M1329.6,807.2 l53.2,28.196" stroke="#a5b5bc" stroke-width="24" filter="url(#blur2)" fill="none"/>
<g fill="none" stroke="#c3d0d5" stroke-width="4.5" filter="url(#blur1)" stroke-linejoin="round"><path d="M372.2,703.2 L416.2,730.2 L481.1,695.803" /><path d="M490.2,636.6600000000001 l44,27 l-35.4,18.762" /></g><path d="M444.8,709.0 l53.6,-28.408" stroke="#a5b5bc" stroke-width="22" filter="url(#blur2)" fill="none"/>
<g fill="none" stroke="#c3d0d5" stroke-width="4.5" filter="url(#blur1)" stroke-linejoin="round"><path d="M1182.8,422.8 L1226.8,449.8 L1291.7,415.403" /><path d="M1300.8,356.26 l44,27 l-35.4,18.762" /></g><path d="M1255.4,428.6 l53.6,-28.408" stroke="#a5b5bc" stroke-width="22" filter="url(#blur2)" fill="none"/>
<g fill="none" stroke="#c3d0d5" stroke-width="4.5" filter="url(#blur1)" stroke-linejoin="round"><path d="M674.7,854.6 L718.7,881.6 L783.6,847.203" /><path d="M792.7,788.0600000000001 l44,27 l-35.4,18.762" /></g><path d="M747.3,860.4 l53.6,-28.408" stroke="#a5b5bc" stroke-width="22" filter="url(#blur2)" fill="none"/></g>
<g fill="#7f98a1" opacity="0.75" filter="url(#blur2)"><use href="#tF" x="9" y="28"/><use href="#tR" x="9" y="28"/></g>
<g fill="#bccb33" stroke="#bccb33" stroke-width="0.6">
<use href="#tF" y="27"/>
<use href="#tF" y="26"/>
<use href="#tF" y="25"/>
<use href="#tF" y="24"/>
<use href="#tF" y="23"/>
<use href="#tF" y="22"/>
<use href="#tF" y="21"/>
<use href="#tF" y="20"/>
<use href="#tF" y="19"/>
<use href="#tF" y="18"/>
<use href="#tF" y="17"/>
<use href="#tF" y="16"/>
<use href="#tF" y="15"/>
<use href="#tF" y="14"/>
<use href="#tF" y="13"/>
<use href="#tF" y="12"/>
<use href="#tF" y="11"/>
<use href="#tF" y="10"/>
<use href="#tF" y="9"/>
<use href="#tF" y="8"/>
<use href="#tF" y="7"/>
<use href="#tF" y="6"/>
<use href="#tF" y="5"/>
<use href="#tF" y="4"/>
<use href="#tF" y="3"/>
<use href="#tF" y="2"/>
<use href="#tF" y="1"/>
</g>
<use href="#tF" fill="#d3db3e" stroke="#aebb2c" stroke-width="0.7"/>
<use href="#tF" y="27" fill="none" stroke="#8f9e26" stroke-width="0.6" opacity="0.45"/>
<g fill="#bccb33" stroke="#bccb33" stroke-width="0.6">
<use href="#tR" y="27"/>
<use href="#tR" y="26"/>
<use href="#tR" y="25"/>
<use href="#tR" y="24"/>
<use href="#tR" y="23"/>
<use href="#tR" y="22"/>
<use href="#tR" y="21"/>
<use href="#tR" y="20"/>
<use href="#tR" y="19"/>
<use href="#tR" y="18"/>
<use href="#tR" y="17"/>
<use href="#tR" y="16"/>
<use href="#tR" y="15"/>
<use href="#tR" y="14"/>
<use href="#tR" y="13"/>
<use href="#tR" y="12"/>
<use href="#tR" y="11"/>
<use href="#tR" y="10"/>
<use href="#tR" y="9"/>
<use href="#tR" y="8"/>
<use href="#tR" y="7"/>
<use href="#tR" y="6"/>
<use href="#tR" y="5"/>
<use href="#tR" y="4"/>
<use href="#tR" y="3"/>
<use href="#tR" y="2"/>
<use href="#tR" y="1"/>
</g>
<use href="#tR" fill="#d3db3e" stroke="#aebb2c" stroke-width="0.7"/>
<use href="#tR" y="27" fill="none" stroke="#8f9e26" stroke-width="0.6" opacity="0.45"/>
<path d="M656,402.8 L656,333.3 Q656,327.8 661,330.5 L769.5,388.44000000000005 Q774.0,390.84000000000003 774.0,396.34000000000003 L774.0,469.84000000000003" fill="none" stroke="#8f9da2" stroke-width="2"/><polygon points="689.4,336.3 739.6,364.2 739.6,386.6 689.4,358.7" fill="#1d1d1b" /><polygon points="689.4,333.3 742.6,362.9 739.6,364.5 689.4,336.6" fill="#e9e53a" /><polygon points="739.6,362.2 742.6,362.9 742.6,388.3 739.6,386.6" fill="#b3cc1c" /><text transform="matrix(1,0.556,0,1,693.0,355.5)" font-family="Liberation Sans, sans-serif" font-weight="700" font-size="18" letter-spacing="2.2" fill="#ede93b" textLength="45" lengthAdjust="spacingAndGlyphs">2029</text>
<path d="M707.2,548.5 L707.2,479 Q707.2,473.5 712.2,476.2 L820.7,534.14 Q825.2,536.54 825.2,542.04 L825.2,615.54" fill="none" stroke="#8f9da2" stroke-width="2"/><polygon points="740.6,482.0 790.8,509.9 790.8,532.3 740.6,504.4" fill="#1d1d1b" /><polygon points="740.6,479.0 793.8,508.6 790.8,510.2 740.6,482.3" fill="#e9e53a" /><polygon points="790.8,507.9 793.8,508.6 793.8,534.0 790.8,532.3" fill="#b3cc1c" /><text transform="matrix(1,0.556,0,1,744.2,501.2)" font-family="Liberation Sans, sans-serif" font-weight="700" font-size="18" letter-spacing="2.2" fill="#ede93b" textLength="45" lengthAdjust="spacingAndGlyphs">2027</text>
<path d="M1000.2,552.9 L1000.2,483.4 Q1000.2,477.9 1005.2,480.59999999999997 L1113.7,538.54 Q1118.2,540.9399999999999 1118.2,546.4399999999999 L1118.2,619.9399999999999" fill="none" stroke="#8f9da2" stroke-width="2"/><polygon points="1033.6,486.4 1083.8,514.3 1083.8,536.7 1033.6,508.8" fill="#1d1d1b" /><polygon points="1033.6,483.4 1086.8,513.0 1083.8,514.6 1033.6,486.7" fill="#e9e53a" /><polygon points="1083.8,512.3 1086.8,513.0 1086.8,538.4 1083.8,536.7" fill="#b3cc1c" /><text transform="matrix(1,0.556,0,1,1037.2,505.6)" font-family="Liberation Sans, sans-serif" font-weight="700" font-size="18" letter-spacing="2.2" fill="#ede93b" textLength="45" lengthAdjust="spacingAndGlyphs">2025</text>
<path d="M923.9,816.7 L923.9,747.2 Q923.9,741.7 928.9,744.4000000000001 L1037.4,802.34 Q1041.9,804.74 1041.9,810.24 L1041.9,883.74" fill="none" stroke="#8f9da2" stroke-width="2"/><polygon points="957.3,750.2 1007.5,778.1 1007.5,800.5 957.3,772.6" fill="#1d1d1b" /><polygon points="957.3,747.2 1010.5,776.8 1007.5,778.4 957.3,750.5" fill="#e9e53a" /><polygon points="1007.5,776.1 1010.5,776.8 1010.5,802.2 1007.5,800.5" fill="#b3cc1c" /><text transform="matrix(1,0.556,0,1,960.9,769.4)" font-family="Liberation Sans, sans-serif" font-weight="700" font-size="18" letter-spacing="2.2" fill="#ede93b" textLength="45" lengthAdjust="spacingAndGlyphs">2022</text>
<path d="M966,991.2 L966,921.7 Q966,916.2 971,918.9000000000001 L1079.5,976.84 Q1084.0,979.24 1084.0,984.74 L1084.0,1058.24" fill="none" stroke="#8f9da2" stroke-width="2"/><polygon points="999.4,924.7 1049.6,952.6 1049.6,975.0 999.4,947.1" fill="#1d1d1b" /><polygon points="999.4,921.7 1052.6,951.3 1049.6,952.9 999.4,925.0" fill="#e9e53a" /><polygon points="1049.6,950.6 1052.6,951.3 1052.6,976.7 1049.6,975.0" fill="#b3cc1c" /><text transform="matrix(1,0.556,0,1,1003.0,943.9)" font-family="Liberation Sans, sans-serif" font-weight="700" font-size="18" letter-spacing="2.2" fill="#ede93b" textLength="45" lengthAdjust="spacingAndGlyphs">2018</text>
<path d="M1254,627.7 L1254,558.2 Q1254,552.7 1259,555.4000000000001 L1367.5,613.34 Q1372.0,615.74 1372.0,621.24 L1372.0,694.74" fill="none" stroke="#8f9da2" stroke-width="2"/><polygon points="1287.4,561.2 1337.6,589.1 1337.6,611.5 1287.4,583.6" fill="#1d1d1b" /><polygon points="1287.4,558.2 1340.6,587.8 1337.6,589.4 1287.4,561.5" fill="#e9e53a" /><polygon points="1337.6,587.1 1340.6,587.8 1340.6,613.2 1337.6,611.5" fill="#b3cc1c" /><text transform="matrix(1,0.556,0,1,1291.0,580.4)" font-family="Liberation Sans, sans-serif" font-weight="700" font-size="18" letter-spacing="2.2" fill="#ede93b" textLength="45" lengthAdjust="spacingAndGlyphs">2021</text>
<path d="M1535.2,665.2 L1535.2,595.7 Q1535.2,590.2 1540.2,592.9000000000001 L1648.7,650.84 Q1653.2,653.24 1653.2,658.74 L1653.2,732.24" fill="none" stroke="#8f9da2" stroke-width="2"/><polygon points="1568.6,598.7 1618.8,626.6 1618.8,649.0 1568.6,621.1" fill="#1d1d1b" /><polygon points="1568.6,595.7 1621.8,625.3 1618.8,626.9 1568.6,599.0" fill="#e9e53a" /><polygon points="1618.8,624.6 1621.8,625.3 1621.8,650.7 1618.8,649.0" fill="#b3cc1c" /><text transform="matrix(1,0.556,0,1,1572.2,617.9)" font-family="Liberation Sans, sans-serif" font-weight="700" font-size="18" letter-spacing="2.2" fill="#ede93b" textLength="45" lengthAdjust="spacingAndGlyphs">2020</text>
<path d="M1241.5,832.9 L1241.5,763.4 Q1241.5,757.9 1246.5,760.6 L1355.0,818.54 Q1359.5,820.9399999999999 1359.5,826.4399999999999 L1359.5,899.9399999999999" fill="none" stroke="#8f9da2" stroke-width="2"/><polygon points="1274.9,766.4 1325.1,794.3 1325.1,816.7 1274.9,788.8" fill="#1d1d1b" /><polygon points="1274.9,763.4 1328.1,793.0 1325.1,794.6 1274.9,766.7" fill="#e9e53a" /><polygon points="1325.1,792.3 1328.1,793.0 1328.1,818.4 1325.1,816.7" fill="#b3cc1c" /><text transform="matrix(1,0.556,0,1,1278.5,785.6)" font-family="Liberation Sans, sans-serif" font-weight="700" font-size="18" letter-spacing="2.2" fill="#ede93b" textLength="45" lengthAdjust="spacingAndGlyphs">2019</text>
<path d="M372.2,703.2 L372.2,630.2 Q372.2,625.2 376.7,622.8000000000001 L485.2,564.6600000000001 Q490.2,561.8600000000001 490.2,567.6600000000001 L490.2,636.6600000000001" fill="none" stroke="#8f9da2" stroke-width="2"/><polygon points="406.8,596.6 457.4,569.8 457.4,591.8 406.8,618.6" fill="#1d1d1b" /><polygon points="403.8,595.2 457.4,566.8 457.4,570.1 406.8,596.9" fill="#e9e53a" /><polygon points="403.8,595.2 406.8,594.6 406.8,618.6 403.8,620.2" fill="#b3cc1c" /><text transform="matrix(1,-0.53,0,1,410.0,615.2)" font-family="Liberation Sans, sans-serif" font-weight="700" font-size="18.5" letter-spacing="2.2" fill="#ede93b" textLength="45" lengthAdjust="spacingAndGlyphs">2028</text>
<path d="M1182.8,422.8 L1182.8,349.8 Q1182.8,344.8 1187.3,342.40000000000003 L1295.8,284.26 Q1300.8,281.46 1300.8,287.26 L1300.8,356.26" fill="none" stroke="#8f9da2" stroke-width="2"/><polygon points="1217.4,316.2 1268.0,289.4 1268.0,311.4 1217.4,338.2" fill="#1d1d1b" /><polygon points="1214.4,314.8 1268.0,286.4 1268.0,289.7 1217.4,316.5" fill="#e9e53a" /><polygon points="1214.4,314.8 1217.4,314.2 1217.4,338.2 1214.4,339.8" fill="#b3cc1c" /><text transform="matrix(1,-0.53,0,1,1220.6,334.8)" font-family="Liberation Sans, sans-serif" font-weight="700" font-size="18.5" letter-spacing="2.2" fill="#ede93b" textLength="45" lengthAdjust="spacingAndGlyphs">2026</text>
<path d="M674.7,854.6 L674.7,781.6 Q674.7,776.6 679.2,774.2 L787.7,716.0600000000001 Q792.7,713.2600000000001 792.7,719.0600000000001 L792.7,788.0600000000001" fill="none" stroke="#8f9da2" stroke-width="2"/><polygon points="709.3,748.0 759.9,721.2 759.9,743.2 709.3,770.0" fill="#1d1d1b" /><polygon points="706.3,746.6 759.9,718.2 759.9,721.5 709.3,748.3" fill="#e9e53a" /><polygon points="706.3,746.6 709.3,746.0 709.3,770.0 706.3,771.6" fill="#b3cc1c" /><text transform="matrix(1,-0.53,0,1,712.5,766.6)" font-family="Liberation Sans, sans-serif" font-weight="700" font-size="18.5" letter-spacing="2.2" fill="#ede93b" textLength="45" lengthAdjust="spacingAndGlyphs">2023</text>
<g fill="none" stroke="#ffffff" stroke-width="2.2" stroke-linejoin="miter">
<path d="M330,912 L1104,912 L1104,957"/>
<path d="M1276.7,853.6 L1276.7,1002.5 L1638,1002.5"/>
<path d="M1567.2,685 L1567.2,816.5 L2016,816.5"/>
<path d="M1527.4,569.7 L1997,569.7"/>
<path d="M849.6,860 L849.6,799.7 L1462.5,457.5 L1462.5,330"/>
<path d="M1495,185.5 L1930,185.5"/>
</g>
<g fill="#ffffff"><circle cx="1104" cy="957" r="9.6"/><circle cx="1276.7" cy="853.6" r="9.6"/><circle cx="1567.2" cy="685" r="9.6"/><circle cx="1527.4" cy="569.7" r="9.6"/><circle cx="849.6" cy="860" r="9.6"/></g>
<polygon points="97.5,1029.0 230.0,955.0 364.7,1030.6 230.4,1105.5" fill="#899ea6" />
<use href="#island"/>
<use href="#tree" transform="translate(201.5,898)"/>
<use href="#people"/><use href="#cman"/>
<polygon points="1409.7,342.7 1442.5,324.1 1463.3,336.0 1484.1,324.1 1503.4,324.1 1513.9,329.3 1525.0,323.4 1539.9,330.1 1526.5,337.5 1534.7,342.7 1512.4,358.3 1499.0,366.5 1511.6,373.9 1493.0,382.9 1478.2,375.4 1463.3,382.1 1451.4,382.1 1437.3,374.7 1449.9,365.0 1437.3,357.6 1423.1,365.0 1408.3,357.6 1422.4,349.4" fill="#9db0b8" />
<polygon points="1388.9,301.1 1388.9,306.3 1394.9,312.2 1415.7,322.6 1417.2,324.1 1430.6,330.8 1444.0,337.5 1458.8,348.2 1475.2,337.5 1487.1,333.0 1503.4,322.6 1521.3,309.2 1521.3,287.7 1533.2,279.8 1533.2,275.8 1518.3,276.5 1484.1,286.9 1409.7,294.4" fill="#8f634f" />
<polygon points="1458.8,348.2 1475.2,337.5 1487.1,333.0 1503.4,322.6 1521.3,309.2 1521.3,287.7 1533.2,279.8 1533.2,275.8 1518.3,277.3 1484.1,294.4 1458.8,315.2" fill="#7d5546" />
<polygon points="1388.9,301.1 1403.8,309.2 1403.8,314.6 1388.9,306.4" fill="#b2866b" />
<polygon points="1403.8,309.2 1417.2,302.5 1417.2,307.3 1403.8,314.0" fill="#9c6e57" />
<polygon points="1417.2,302.5 1429.1,307.8 1429.1,313.1 1417.2,307.9" fill="#b2866b" />
<polygon points="1416.4,315.9 1431.3,324.1 1431.3,329.5 1416.4,321.3" fill="#b2866b" />
<polygon points="1431.3,324.1 1445.4,315.2 1445.4,319.9 1431.3,328.9" fill="#9c6e57" />
<polygon points="1445.4,315.2 1461.1,323.4 1461.1,328.7 1445.4,320.5" fill="#b2866b" />
<polygon points="1461.1,323.4 1474.4,315.2 1474.4,319.9 1461.1,328.1" fill="#9c6e57" />
<polygon points="1474.4,315.2 1487.1,324.1 1487.1,329.5 1474.4,320.5" fill="#b2866b" />
<polygon points="1487.1,324.1 1503.4,315.2 1503.4,319.9 1487.1,328.9" fill="#9c6e57" />
<polygon points="1490.8,305.5 1521.3,286.2 1521.3,290.9 1490.8,310.3" fill="#9c6e57" />
<polygon points="1519.1,284.0 1533.2,275.8 1533.2,280.5 1519.1,288.7" fill="#9c6e57" />
<polygon points="1461.1,252.0 1503.4,275.8 1518.3,267.6 1533.2,275.8 1519.1,284.0 1521.3,286.2 1490.8,305.5 1503.4,315.2 1487.1,324.1 1474.4,315.2 1461.1,323.4 1445.4,315.2 1431.3,324.1 1416.4,315.9 1429.1,307.8 1417.2,302.5 1403.8,309.2 1388.9,301.1 1394.1,297.3 1394.1,287.7" fill="#afca0b" />
<use href="#tree" transform="translate(1461.6,281.6) scale(0.74)"/>
<g transform="translate(1459,287.7) scale(0.47) translate(-201,-911)"><use href="#people"/></g>
<use href="#flower2" transform="translate(1403.8,302.0) scale(0.52)"/>
<use href="#flower2" transform="translate(1431.2,316.7) scale(0.52)"/>
<g transform="translate(1459,287.7) scale(0.47) translate(-201,-911)"><use href="#cman"/></g>
<use href="#flower2" transform="translate(1489.2,314.2) scale(0.52)"/>
<use href="#flower2" transform="translate(1517.6,274.6) scale(0.52)"/>
<use href="#flower" transform="translate(1699.5,547)"/>
<use href="#flower" transform="translate(1623.4,804.4)"/>
<use href="#flower" transform="translate(1324.2,978)"/>
<rect x="1573.8" y="311.4" width="67.8" height="67.1" fill="#ffffff"/>
<rect x="1647.7" y="311.4" width="67.3" height="67.1" fill="#ffffff"/>
<rect x="1718.8" y="311.4" width="67.4" height="67.1" fill="#ffffff"/>
<rect x="1789.5" y="311.4" width="67.3" height="67.1" fill="#ffffff"/>
<rect x="1862.9" y="311.4" width="67.4" height="67.1" fill="#ffffff"/>
<text x="1583.7" y="349.7" font-family="DejaVu Sans Light, DejaVu Sans, sans-serif" font-weight="200" font-size="16.5" fill="#666" stroke="#666" stroke-width="0.35" textLength="48.9" lengthAdjust="spacingAndGlyphs">BESTO</text>
<rect x="1652" y="338.3" width="8.6" height="7.8" fill="#d5261e"/><path d="M1653.2,345 L1659.4,339.2 L1659.4,341.4 L1655.6,345 Z" fill="#fff"/>
<text x="1662" y="346.2" font-family="Liberation Sans, sans-serif" font-weight="700" font-size="11" fill="#d5261e" textLength="47.6" lengthAdjust="spacingAndGlyphs" stroke="#d5261e" stroke-width="0.5">Minol</text>
<rect x="1725.5" y="332" width="54.8" height="7.3" fill="#2a4f9f"/>
<text x="1726" y="338.1" font-family="Liberation Mono, monospace" font-weight="700" font-size="8.6" fill="#fff" textLength="53.8" lengthAdjust="spacingAndGlyphs">Blockchain</text>
<rect x="1725.5" y="341.4" width="44" height="7.3" fill="#2a4f9f"/>
<text x="1726" y="347.5" font-family="Liberation Mono, monospace" font-weight="700" font-size="8.6" fill="#fff" textLength="43" lengthAdjust="spacingAndGlyphs">Founders</text>
<rect x="1725.5" y="351" width="28.7" height="7.3" fill="#3c8bd9"/>
<text x="1726" y="357.1" font-family="Liberation Mono, monospace" font-weight="700" font-size="8.6" fill="#fff" textLength="27.7" lengthAdjust="spacingAndGlyphs">Group</text>
<text x="1800.8" y="351" font-family="DejaVu Sans, Liberation Sans, sans-serif" font-weight="700" font-size="16" fill="#1f5fb3" textLength="26.5" lengthAdjust="spacingAndGlyphs">coin</text>
<circle cx="1837.2" cy="345.3" r="8.4" fill="#fff" stroke="#1f5fb3" stroke-width="1.5"/><circle cx="1837.2" cy="345.3" r="5.6" fill="none" stroke="#4d8fd6" stroke-width="0.8"/>
<text x="1837.2" y="349.3" text-anchor="middle" font-family="Liberation Sans, sans-serif" font-weight="700" font-size="10.5" fill="#1f5fb3">IX</text>
<rect x="1873.6" y="323" width="45.8" height="45.8" fill="#2e2d4f"/><text x="1881.8" y="343.6" font-family="Liberation Sans, sans-serif" font-weight="700" font-size="18.0" fill="#fff" textLength="30.0" lengthAdjust="spacingAndGlyphs">CV</text><text x="1881.8" y="361.3" font-family="Liberation Sans, sans-serif" font-weight="700" font-size="18.0" fill="#fff" textLength="30.0" lengthAdjust="spacingAndGlyphs">VC</text>
<rect x="1672.2" y="779.7" width="66.8" height="66.8" fill="#ffffff"/>
<rect x="1682.5" y="791.7" width="45.8" height="45.8" fill="#2e2d4f"/><text x="1690.7" y="812.3" font-family="Liberation Sans, sans-serif" font-weight="700" font-size="18.0" fill="#fff" textLength="30.0" lengthAdjust="spacingAndGlyphs">CV</text><text x="1690.7" y="830.0" font-family="Liberation Sans, sans-serif" font-weight="700" font-size="18.0" fill="#fff" textLength="30.0" lengthAdjust="spacingAndGlyphs">VC</text>
<text font-family="DejaVu Sans, Liberation Sans, sans-serif" fill="#25323a"><tspan x="1573" y="174.4" font-size="24.2" font-weight="400" textLength="276.4" lengthAdjust="spacingAndGlyphs">VC Seed Investment</tspan></text>
<text font-family="DejaVu Sans, Liberation Sans, sans-serif" fill="#25323a"><tspan x="1573" y="210.3" font-size="24.2" font-weight="700" textLength="260.0" lengthAdjust="spacingAndGlyphs">BESTO, Minol, BFG,</tspan></text>
<text font-family="DejaVu Sans, Liberation Sans, sans-serif" fill="#25323a"><tspan x="1573" y="246.5" font-size="24.2" font-weight="700" textLength="186.7" lengthAdjust="spacingAndGlyphs">CoinIX, CV VC</tspan></text>
<text font-family="DejaVu Sans, Liberation Sans, sans-serif" fill="#25323a"><tspan x="1573" y="296" font-size="33.5" font-weight="700" textLength="97.6" lengthAdjust="spacingAndGlyphs">2.0 M</tspan><tspan x="1672.5" y="288.7" font-size="28" font-weight="700" font-family="Liberation Sans, sans-serif">*</tspan></text>
<text font-family="DejaVu Sans, Liberation Sans, sans-serif" fill="#25323a"><tspan x="1739" y="558.7" font-size="24.2" font-weight="400" textLength="182.4" lengthAdjust="spacingAndGlyphs">Grant Startup</tspan></text>
<text font-family="DejaVu Sans, Liberation Sans, sans-serif" fill="#25323a"><tspan x="1739" y="594.7" font-size="24.2" font-weight="400" textLength="257.5" lengthAdjust="spacingAndGlyphs">Secure Accelerator</tspan></text>
<text font-family="DejaVu Sans, Liberation Sans, sans-serif" fill="#25323a"><tspan x="1739" y="645" font-size="33.5" font-weight="700" textLength="86.4" lengthAdjust="spacingAndGlyphs">750k</tspan><tspan x="1827" y="636.3" font-size="25" font-weight="700" font-family="Liberation Sans, sans-serif">*</tspan></text>
<text font-family="DejaVu Sans, Liberation Sans, sans-serif" fill="#25323a"><tspan x="1744.5" y="805" font-size="24.2" font-weight="400" textLength="275.0" lengthAdjust="spacingAndGlyphs">PreSeed Investment</tspan></text>
<text font-family="DejaVu Sans, Liberation Sans, sans-serif" fill="#25323a"><tspan x="1744.5" y="839.8" font-size="24.2" font-weight="400" textLength="29.0" lengthAdjust="spacingAndGlyphs">by</tspan> <tspan x="1784.7" y="839.8" font-size="24.2" font-weight="700" textLength="129.7" lengthAdjust="spacingAndGlyphs">CV VC AG</tspan></text>
<text font-family="DejaVu Sans, Liberation Sans, sans-serif" fill="#25323a"><tspan x="1744.5" y="890.2" font-size="33.5" font-weight="700" textLength="79.8" lengthAdjust="spacingAndGlyphs">120k</tspan><tspan x="1826" y="881.6" font-size="24" font-weight="700" font-family="Liberation Sans, sans-serif">*</tspan></text>
<text font-family="DejaVu Sans, Liberation Sans, sans-serif" fill="#25323a"><tspan x="1371" y="993.4" font-size="24.2" font-weight="400" textLength="243.8" lengthAdjust="spacingAndGlyphs">Angel Investment</tspan></text>
<text font-family="DejaVu Sans, Liberation Sans, sans-serif" fill="#25323a"><tspan x="1371" y="1029.5" font-size="24.2" font-weight="400" textLength="29.0" lengthAdjust="spacingAndGlyphs">by</tspan> <tspan x="1412.7" y="1029.5" font-size="24.2" font-weight="700" textLength="221.7" lengthAdjust="spacingAndGlyphs">Company GmbH</tspan></text>
<text font-family="DejaVu Sans, Liberation Sans, sans-serif" fill="#25323a"><tspan x="1371" y="1079.2" font-size="33.5" font-weight="700" textLength="92.4" lengthAdjust="spacingAndGlyphs">200k</tspan><tspan x="1464.5" y="1068.6" font-size="22" font-weight="700" font-family="Liberation Sans, sans-serif">*</tspan></text>
<text font-family="DejaVu Sans, Liberation Sans, sans-serif" fill="#25323a"><tspan x="363.2" y="939.5" font-size="24.2" font-weight="400" textLength="287.6" lengthAdjust="spacingAndGlyphs">Company foundation</tspan></text>
<text font-family="DejaVu Sans, Liberation Sans, sans-serif" fill="#25323a"><tspan x="363.2" y="975.6" font-size="24.2" font-weight="700" textLength="186.7" lengthAdjust="spacingAndGlyphs">Bootstrapped</tspan></text>
<text font-family="DejaVu Sans, Liberation Sans, sans-serif" fill="#25323a"><tspan x="363.2" y="1025.7" font-size="33.5" font-weight="700" textLength="62.6" lengthAdjust="spacingAndGlyphs">25k</tspan> <tspan x="436.5" y="1016" font-size="24" font-weight="700" font-family="Liberation Sans, sans-serif">*</tspan></text>
<text font-family="DejaVu Sans, Liberation Sans, sans-serif" fill="#8a9ba0"><tspan x="19.5" y="1128.5" font-size="27" font-weight="400" font-family="Liberation Sans, sans-serif">*</tspan><tspan x="30.5" y="1126.2" font-size="16.8" font-weight="400" textLength="250.8" lengthAdjust="spacingAndGlyphs">Investment Amount in Euro</tspan></text>
<text x="357.5" y="898.5" font-family="DejaVu Sans Light, DejaVu Sans, sans-serif" font-weight="200" font-size="54" fill="#95c11f" stroke="#95c11f" stroke-width="1.6" textLength="152" lengthAdjust="spacingAndGlyphs">asvin</text>
<rect x="459" y="855" width="9" height="8.5" fill="url(#bg)"/>
<path d="M390.5,871 C394,866 400,860.5 405.5,858 C407.5,857.3 408.3,859.3 406.8,860.6 C402,864 397,868 393,872.5 Z" fill="#f39325"/>
</svg>
</body></html>
